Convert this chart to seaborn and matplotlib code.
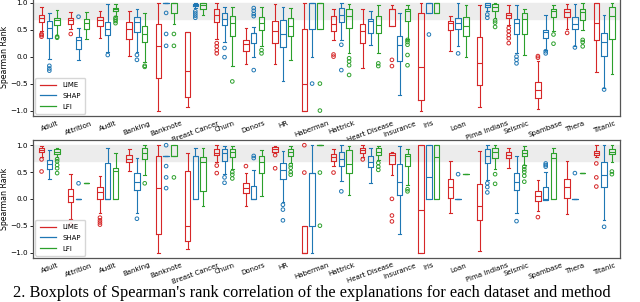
import matplotlib
matplotlib.use('Agg')
import matplotlib.pyplot as plt
from matplotlib.lines import Line2D
import seaborn as sns
import pandas as pd

datasets = ['Adult', 'Attrition', 'Audit', 'Banking', 'Banknote', 'Breast Cancer', 'Churn',
            'Donors', 'HR', 'Haberman', 'Hattrick', 'Heart Disease', 'Insurance', 'Iris',
            'Loan', 'Pima Indians', 'Seismic', 'Spambase', 'Thera', 'Titanic']
methods = ['LIME', 'SHAP', 'LFI']
colors = ['#d62728', '#1f77b4', '#2ca02c']

# box stats: (whisker low, q1, median, q3, whisker high)
top_lime = [(0.47, 0.64, 0.72, 0.78, 0.925), (0.52, 0.61, 0.67, 0.72, 0.825), (0.34, 0.575, 0.67, 0.74, 0.84),
            (0.01, 0.325, 0.51, 0.64, 0.84), (-1.0, -0.4, 0.19, 0.61, 1.0), (-0.94, -0.75, -0.26, 0.456, 0.456),
            (0.325, 0.64, 0.78, 0.875, 1.0), (-0.14, 0.11, 0.23, 0.3, 0.53), (-0.14, 0.26, 0.47, 0.66, 0.97),
            (-1.0, -1.0, -0.5, 0.51, 1.0), (0.31, 0.47, 0.61, 0.75, 0.89), (-0.22, 0.25, 0.47, 0.61, 0.89),
            (0.56, 0.56, 0.875, 0.89, 0.95), (-1.0, -0.8, -0.19, 0.81, 1.0), (0.11, 0.49, 0.625, 0.66, 0.75),
            (-0.94, -0.53, -0.125, 0.36, 0.95), (0.59, 0.72, 0.78, 0.81, 0.95), (-0.97, -0.76, -0.61, -0.47, -0.08),
            (0.51, 0.74, 0.825, 0.89, 0.97), (-0.28, 0.31, 0.625, 1.0, 1.0)]
top_lime_out = [[0.42, 0.40, 0.37], [0.42], [], [], [], [], [0.25, 0.19, 0.12, 0.06], [], [], [],
                [0.04, 0.0], [], [-0.06, -0.175], [], [], [], [0.53, 0.47, 0.4, 0.34, 0.25], [-0.02, 0.01],
                [0.44], []]
top_shap = [(-0.05, 0.34, 0.53, 0.66, 0.81), (-0.06, 0.14, 0.31, 0.36, 0.53), (0.09, 0.41, 0.51, 0.64, 0.97),
            (0.09, 0.46, 0.64, 0.74, 0.89), (1.0, 1.0, 1.0, 1.0, 1.0), (0.9, 0.93, 0.95, 0.98, 1.0),
            (0.28, 0.59, 0.7, 0.8, 0.925), (0.0, 0.25, 0.43, 0.44, 0.55), (-0.45, 0.17, 0.425, 0.675, 0.925),
            (0.0, 0.51, 1.0, 1.0, 1.0), (0.31, 0.64, 0.78, 0.9, 1.0), (0.22, 0.44, 0.66, 0.70, 0.84),
            (-0.72, -0.075, 0.22, 0.375, 0.8), (0.81, 0.81, 1.0, 1.0, 1.0), (0.2, 0.51, 0.625, 0.72, 0.99),
            (0.85, 0.925, 0.96, 0.99, 1.0), (0.06, 0.425, 0.625, 0.69, 0.95), (0.125, 0.34, 0.45, 0.5, 0.78),
            (0.2, 0.51, 0.61, 0.74, 0.97), (-0.575, 0.01, 0.28, 0.44, 0.78)]
top_shap_out = [[-0.17, -0.22, -0.26], [0.74], [0.03], [0.03, -0.06], [0.81, 0.42, 0.2],
                [0.84, 0.80, 0.76, 0.72], [0.16, -0.01], [0.9, 0.85, 0.79, 0.75, -0.25], [], [-0.5],
                [0.22, -0.25], [], [], [0.41], [0.06], [0.78, 0.72], [0.0, -0.06, -0.125], [0.1, 0.06],
                [0.17], [-0.61]]
top_lfi = [(0.40, 0.59, 0.675, 0.72, 0.86), (0.33, 0.51, 0.625, 0.69, 0.825), (0.75, 0.84, 0.875, 0.91, 0.97),
           (-0.1, 0.28, 0.425, 0.575, 0.80), (0.61, 0.81, 1.0, 1.0, 1.0), (0.78, 0.89, 0.95, 0.99, 1.0),
           (-0.175, 0.375, 0.625, 0.76, 0.925), (0.19, 0.5, 0.625, 0.74, 0.925), (-0.06, 0.39, 0.56, 0.72, 0.906),
           (0.51, 0.51, 1.0, 1.0, 1.0), (0.06, 0.53, 0.76, 0.89, 0.97), (0.06, 0.44, 0.59, 0.76, 0.95),
           (0.325, 0.66, 0.84, 0.89, 0.95), (0.81, 0.81, 1.0, 1.0, 1.0), (0.0, 0.39, 0.56, 0.74, 0.95),
           (0.72, 0.84, 0.92, 0.97, 1.0), (0.03, 0.425, 0.7, 0.81, 0.89), (0.47, 0.74, 0.84, 0.89, 0.95),
           (0.5, 0.675, 0.825, 0.875, 1.0), (-0.325, 0.325, 0.75, 0.925, 1.0)]
top_lfi_out = [[0.37, 0.35], [], [0.72, 0.69, 0.66, 0.62], [-0.17, -0.19], [0.42, 0.2], [], [-0.46],
               [0.12, 0.06], [], [-0.5, -1.0], [-0.03, -0.09, -0.16, -0.34], [-0.125, -0.175],
               [0.31, 0.27, 0.22, 0.03, -0.16], [], [], [0.67, 0.63, 0.55], [], [0.41, 0.24],
               [0.31, 0.27, 0.19], []]

bot_lime = [(0.78, 0.865, 0.91, 0.957, 0.99), (-0.37, -0.05, 0.05, 0.18, 0.46), (-0.26, 0.0, 0.12, 0.23, 0.43),
            (0.51, 0.69, 0.75, 0.815, 0.92), (-1.0, -0.65, 0.2, 0.8, 1.0), (-0.93, -0.785, -0.5, 0.51, 0.86),
            (0.69, 0.815, 0.86, 0.92, 1.0), (-0.13, 0.11, 0.2, 0.3, 0.48), (0.85, 0.88, 0.92, 0.97, 0.99),
            (-1.0, -1.0, -1.0, -0.5, -0.5), (0.62, 0.71, 0.785, 0.83, 0.92), (0.785, 0.86, 0.91, 0.957, 1.0),
            (0.445, 0.65, 0.815, 0.846, 0.88), (-1.0, -1.0, -0.2, 1.0, 1.0), (-0.26, 0.015, 0.22, 0.37, 0.71),
            (-0.97, -0.4, -0.14, 0.27, 0.9), (0.57, 0.754, 0.815, 0.88, 0.94), (-0.23, -0.046, 0.046, 0.14, 0.35),
            (-0.29, 0.015, 0.22, 0.37, 0.71), (0.78, 0.815, 0.86, 0.9, 1.0)]
bot_lime_out = [[0.735, 0.51], [-0.48], [-0.35, -0.4, -0.44, -0.48], [], [], [], [0.62, 0.48], [0.61],
                [0.815, 0.57], [1.0, 0.49], [0.49], [0.735], [0.0, -0.31, -0.42], [], [], [], [], [-0.34],
                [], [0.66, 0.4, 0.23]]
bot_shap = [(0.37, 0.56, 0.65, 0.72, 0.91), (0.0, 0.0, 0.0, 0.0, 0.0), (0.0, 0.0, 0.0, 0.66, 0.94),
            (-0.26, 0.16, 0.32, 0.48, 0.77), (0.8, 0.8, 0.8, 0.8, 0.8), (0.0, 0.0, 0.8, 0.8, 0.957),
            (0.46, 0.71, 0.86, 0.92, 0.98), (0.0, 0.0, 0.0, 0.24, 0.54), (-0.05, 0.37, 0.54, 0.67, 0.9),
            (-1.0, -0.5, 0.49, 0.49, 1.0), (0.34, 0.61, 0.75, 0.88, 1.0), (0.29, 0.59, 0.69, 0.8, 0.94),
            (-0.66, 0.077, 0.32, 0.65, 0.99), (0.0, 0.0, 0.4, 1.0, 1.0), (0.0, 0.0, 0.0, 0.0, 0.0),
            (0.35, 0.66, 0.8, 0.92, 1.0), (-0.26, 0.157, 0.32, 0.48, 0.8), (-0.03, -0.03, 0.0, 0.22, 0.5),
            (0.0, 0.0, 0.0, 0.0, 0.0), (-0.4, 0.22, 0.446, 0.69, 1.0)]
bot_shap_out = [[], [0.29], [], [-0.37], [1.0, 0.61, 0.4, 0.2], [], [0.4, 0.3], [0.8, 0.76],
                [-0.11, -0.2, -0.4], [], [0.14], [], [], [], [0.46], [0.29, 0.22, 0.12], [-0.415],
                [0.6, 0.63, 0.66], [0.48], [-0.52]]
bot_lfi = [(0.78, 0.834, 0.88, 0.92, 0.957), (0.3, 0.3, 0.3, 0.3, 0.3), (0.0, 0.0, 0.51, 0.57, 0.85),
           (0.445, 0.735, 0.86, 0.94, 1.0), (0.8, 0.8, 0.8, 1.0, 1.0), (-0.13, 0.14, 0.69, 0.785, 0.957),
           (0.55, 0.785, 0.88, 0.92, 0.98), (0.06, 0.49, 0.69, 0.8, 0.91), (0.67, 0.8, 0.88, 0.92, 0.98),
           (1.0, 1.0, 1.0, 1.0, 1.0), (0.08, 0.49, 0.65, 0.91, 0.98), (0.72, 0.815, 0.88, 0.94, 0.98),
           (0.26, 0.61, 0.8, 0.83, 0.92), (0.0, 0.0, 0.785, 1.0, 1.0), (0.46, 0.46, 0.46, 0.46, 0.46),
           (0.55, 0.754, 0.88, 0.957, 1.0), (0.63, 0.8, 0.86, 0.91, 0.98), (0.0, 0.0, 0.754, 0.86, 0.957),
           (0.48, 0.48, 0.48, 0.48, 0.48), (0.69, 0.834, 0.88, 0.92, 1.0)]
bot_lfi_out = [[0.74, 0.7, 0.63, 0.57, 0.48], [], [], [0.29], [0.4], [], [0.5, 0.45, 0.38], [],
               [0.63, 0.58, 0.5, 0.45], [0.49, -0.5], [], [0.67, 0.6, 0.54], [0.18, 0.14], [], [],
               [0.46, 0.28], [0.6, 0.55, 0.5, 0.43, 0.32], [], [], [0.51, 0.46]]


def long_table(per_method):
    rows = []
    for m, stats in zip(methods, per_method):
        for d, vals in zip(datasets, stats):
            for v in vals:
                rows.append((d, m, v))
    return pd.DataFrame(rows, columns=['dataset', 'method', 'rank'])


def draw(ax, boxes, fliers):
    sns.boxplot(data=long_table(boxes), x='dataset', y='rank', hue='method',
                order=datasets, hue_order=methods, palette=colors, fill=False,
                whis=(0, 100), width=0.8, gap=0.3, linewidth=0.8, showfliers=False,
                legend=False, ax=ax)
    sns.stripplot(data=long_table(fliers), x='dataset', y='rank', hue='method',
                  order=datasets, hue_order=methods, palette=colors, dodge=True,
                  jitter=False, size=2.6, legend=False, ax=ax)
    for coll in ax.collections:
        fc = coll.get_facecolor()
        coll.set_edgecolor(fc)
        coll.set_facecolor('none')
        coll.set_linewidth(0.7)
    ax.axhspan(0.7, 1.0, color='#ececec', zorder=0)
    ax.set_ylim(-1.1, 1.1)
    ax.set_xlim(-0.55, 19.55)
    ax.set_yticks([-1.0, -0.5, 0.0, 0.5, 1.0])
    ax.set_xlabel('')
    ax.set_ylabel('Spearman Rank', fontsize=5.6, labelpad=1)
    ax.tick_params(axis='y', labelsize=5.2, length=2.5, width=0.6, pad=1.5)
    ax.set_xticks(range(len(datasets)))
    ax.set_xticklabels(datasets, rotation=20, fontsize=5, ha='center')
    ax.tick_params(axis='x', which='major', length=0, pad=3)
    ax.set_xticks(range(1, len(datasets), 2), minor=True)
    ax.tick_params(axis='x', which='minor', length=2.5, width=0.6)
    for s in ax.spines.values():
        s.set_color('#555555')
        s.set_linewidth(0.9)
    handles = [Line2D([], [], color=c, lw=0.9) for c in colors]
    ax.legend(handles, methods, loc='lower left', fontsize=5, frameon=True,
              handlelength=2.4, handletextpad=0.9, borderpad=0.6, labelspacing=0.7,
              borderaxespad=0.3, edgecolor='#cccccc', fancybox=True)


fig = plt.figure(figsize=(6.4, 3.02), dpi=100)
ax_top = fig.add_axes([0.052, 0.616, 0.917, 0.393])
ax_bot = fig.add_axes([0.052, 0.146, 0.917, 0.391])
draw(ax_top, [top_lime, top_shap, top_lfi], [top_lime_out, top_shap_out, top_lfi_out])
draw(ax_bot, [bot_lime, bot_shap, bot_lfi], [bot_lime_out, bot_shap_out, bot_lfi_out])

fig.text(0.02, 0.018, "2. Boxplots of Spearman's rank correlation of the explanations for each dataset and method",
         fontsize=11.8, family='Liberation Serif', va='baseline')

fig.savefig('out.png', dpi=100)
